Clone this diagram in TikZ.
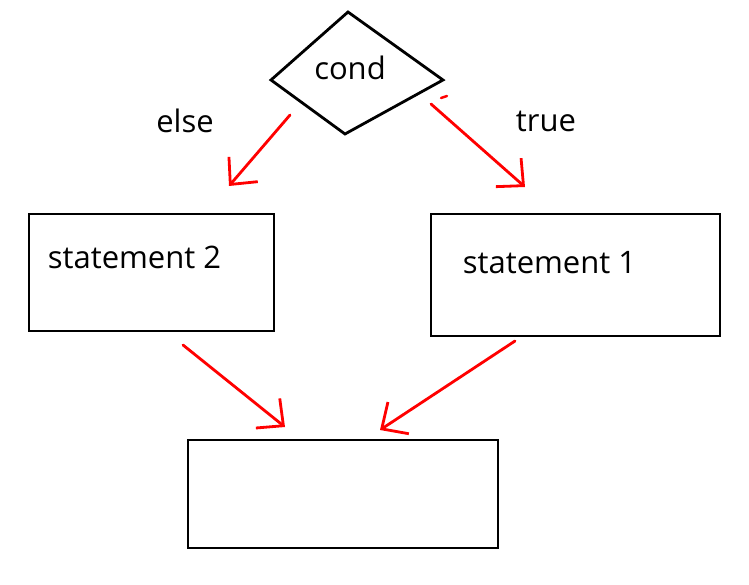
\documentclass[tikz,border=0pt]{standalone}
\usepackage{fontspec}
\setmainfont{Open Sans}
\usetikzlibrary{arrows.meta}

\begin{document}
\begin{tikzpicture}[
    x=1pt, y=-1pt,
    box/.style={draw, line width=2.8pt, minimum width=#1},
    txt/.style={font=\fontsize{31}{35}\selectfont, inner sep=0pt},
    flow/.style={draw=red, line width=2.8pt, line cap=round,
        -{Straight Barb[length=20pt, width=38pt, line width=2.8pt]}},
]
\useasboundingbox (0,0) rectangle (749,585);

\node[txt] (cond) at (350,68) {cond};
\draw[line width=2.8pt, line join=miter] (348,12) -- (443,80) -- (345,134) -- (271,80) -- cycle;

\node[box=245pt, minimum height=117pt] (stmtb) at (151.5,272.5) {};
\node[txt] (stmtbtxt) at (134.5,257) {statement 2};
\node[box=289pt, minimum height=122pt] (stmta) at (575.5,275) {};
\node[txt] (stmtatxt) at (549.5,263) {statement 1};
\node[box=310pt, minimum height=108pt] (join) at (343,494) {};

\node[txt] (else) at (185,121) {else};
\node[txt] (true) at (546,121) {true};

\coordinate (elsefrom) at (290,115);
\coordinate (elseto)   at (229,186);
\coordinate (truefrom) at (431,104);
\coordinate (trueto)   at (525,187);
\coordinate (bfrom)    at (183,345);
\coordinate (bto)      at (285,427);
\coordinate (afrom)    at (515,341);
\coordinate (ato)      at (380,430);

\draw[flow] (elsefrom) -- (elseto);
\draw[flow] (truefrom) -- (trueto);
\draw[flow] (bfrom) -- (bto);
\draw[flow] (afrom) -- (ato);
\draw[draw=red, line width=2.4pt, line cap=round] (441,98) -- (447,96);
\end{tikzpicture}
\end{document}
